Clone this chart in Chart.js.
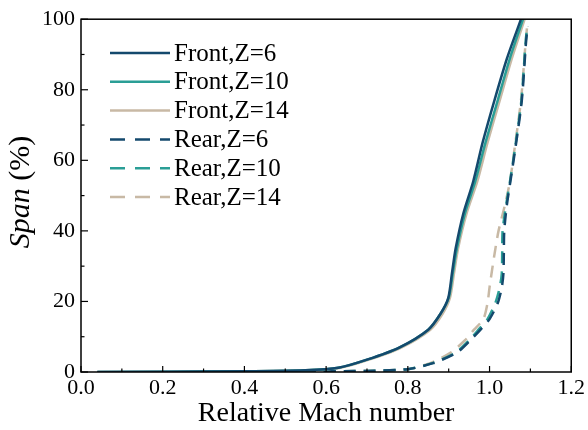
<!DOCTYPE html>
<html>
<head>
<meta charset="utf-8">
<script src="https://cdn.jsdelivr.net/npm/chart.js@4.4.1/dist/chart.umd.min.js"></script>
<style>
  html, body { margin: 0; padding: 0; background: #fff; }
  #wrap { width: 588px; height: 430px; }
</style>
</head>
<body>
<div id="wrap"><canvas id="chart" width="588" height="430"></canvas></div>
<script>
// span (%) for each curve point
const spanFront = [0, 0.2, 0.5, 1.2, 3.5, 7, 12, 16.5, 21, 28, 35, 45, 54, 65, 77, 89, 100];
const machFront6 = [0.04, 0.4, 0.55, 0.63, 0.70, 0.78, 0.85, 0.88, 0.899, 0.908, 0.917, 0.936, 0.96, 0.983, 1.012, 1.043, 1.077];
const machFront10 = [0.04, 0.4, 0.55, 0.63, 0.70, 0.78, 0.85, 0.88, 0.90, 0.91, 0.92, 0.94, 0.965, 0.99, 1.02, 1.05, 1.082];
const machFront14 = [0.04, 0.4, 0.55, 0.635, 0.705, 0.785, 0.855, 0.885, 0.903, 0.913, 0.923, 0.944, 0.97, 0.995, 1.025, 1.055, 1.086];

const spanRear = [0, 0.3, 0.8, 2.5, 5.5, 9, 12, 15, 19.5, 24, 28, 34, 40, 47, 54, 64, 77, 93, 98];
const machRear6 = [0.3, 0.7, 0.8, 0.862, 0.92, 0.953, 0.978, 1.0, 1.02, 1.03, 1.034, 1.035, 1.036, 1.042, 1.051, 1.064, 1.079, 1.089, 1.093];
const machRear10 = [0.3, 0.7, 0.8, 0.86, 0.917, 0.95, 0.973, 0.995, 1.014, 1.025, 1.03, 1.031, 1.032, 1.04, 1.05, 1.063, 1.078, 1.088, 1.092];
const machRear14 = [0.3, 0.7, 0.8, 0.855, 0.905, 0.94, 0.962, 0.985, 0.995, 1.0, 1.005, 1.013, 1.022, 1.037, 1.05, 1.062, 1.077, 1.088, 1.092];

const labels = ['Front,Z=6', 'Front,Z=10', 'Front,Z=14', 'Rear,Z=6', 'Rear,Z=10', 'Rear,Z=14'];
const colors = ['#14496d', '#2a9e96', '#c8b9a5'];
const xTicks = [0, 0.2, 0.4, 0.6, 0.8, 1.0, 1.2];
const yTicks = [0, 20, 40, 60, 80, 100];

const serif = '"Liberation Serif", "Times New Roman", serif';

const pts = (xs, ys) => xs.map((x, i) => ({ x: x, y: ys[i] }));

const series = [
  [machFront6, spanFront], [machFront10, spanFront], [machFront14, spanFront],
  [machRear6, spanRear], [machRear10, spanRear], [machRear14, spanRear]
];

const datasets = series.map((s, i) => ({
  label: labels[i],
  data: pts(s[0], s[1]),
  showLine: true,
  borderColor: colors[i % 3],
  borderWidth: 2.5,
  borderDash: i < 3 ? [] : [12, 8],
  pointRadius: 0,
  tension: 0.25,
  fill: false
}));

// box, inward ticks, legend and y title
const extras = {
  id: 'extras',
  afterDraw(chart) {
    const ctx = chart.ctx;
    const a = chart.chartArea;
    const xs = chart.scales.x, ys = chart.scales.y;
    ctx.save();
    ctx.strokeStyle = '#000';
    ctx.lineWidth = 1.5;
    ctx.setLineDash([]);
    ctx.strokeRect(a.left, a.top, a.right - a.left, a.bottom - a.top);
    ctx.lineWidth = 1.2;
    for (let v = 0; v <= 12; v++) {
      const px = xs.getPixelForValue(v / 10);
      const len = v % 2 === 0 ? 6 : 3.5;
      ctx.beginPath();
      ctx.moveTo(px, a.bottom);
      ctx.lineTo(px, a.bottom - len);
      ctx.stroke();
    }
    for (let v = 0; v <= 100; v += 10) {
      const py = ys.getPixelForValue(v);
      const len = v % 20 === 0 ? 7 : 3.5;
      ctx.beginPath();
      ctx.moveTo(a.left, py);
      ctx.lineTo(a.left + len, py);
      ctx.stroke();
    }

    // legend
    ctx.font = '25px ' + serif;
    ctx.textBaseline = 'middle';
    ctx.fillStyle = '#000';
    chart.data.datasets.forEach((d, i) => {
      const y = 53 + i * 28.8;
      ctx.strokeStyle = d.borderColor;
      ctx.lineWidth = 2.5;
      ctx.setLineDash(i < 3 ? [] : [15, 10]);
      ctx.beginPath();
      ctx.moveTo(110, y);
      ctx.lineTo(170, y);
      ctx.stroke();
      ctx.setLineDash([]);
      ctx.fillText(d.label, 174, y + 1);
    });

    // y title: italic "Span" + " (%)"
    ctx.translate(21, 192);
    ctx.rotate(-Math.PI / 2);
    ctx.textBaseline = 'middle';
    ctx.fillStyle = '#000';
    const f1 = 'italic 30px ' + serif, f2 = '30px ' + serif;
    ctx.font = f1;
    const w1 = ctx.measureText('Span').width;
    ctx.font = f2;
    const w2 = ctx.measureText(' (%)').width;
    const start = -(w1 + w2) / 2;
    ctx.font = f1;
    ctx.textAlign = 'left';
    ctx.fillText('Span', start, 0);
    ctx.font = f2;
    ctx.fillText(' (%)', start + w1, 0);
    ctx.restore();
  }
};

const chart = new Chart(document.getElementById('chart'), {
  type: 'scatter',
  data: { datasets: datasets },
  options: {
    responsive: false,
    animation: false,
    layout: { padding: { top: 18, right: 15, left: 0, bottom: 0 } },
    plugins: { legend: { display: false }, tooltip: { enabled: false } },
    scales: {
      x: {
        type: 'linear', min: 0, max: 1.2,
        afterBuildTicks: s => { s.ticks = xTicks.map(v => ({ value: v })); },
        afterFit: s => { s.height = 58; },
        grid: { display: false, drawTicks: false },
        border: { display: false },
        ticks: {
          color: '#000', padding: 3,
          font: { family: serif, size: 22 },
          callback: v => v.toFixed(1)
        },
        title: {
          display: true, text: 'Relative Mach number', color: '#000',
          font: { family: serif, size: 28 }, padding: { top: 0, bottom: 0 }
        }
      },
      y: {
        type: 'linear', min: 0, max: 100,
        afterBuildTicks: s => { s.ticks = yTicks.map(v => ({ value: v })); },
        afterFit: s => { s.width = 81; },
        grid: { display: false, drawTicks: false },
        border: { display: false },
        ticks: {
          color: '#000', padding: 6,
          font: { family: serif, size: 22 }
        }
      }
    }
  },
  plugins: [extras]
});
</script>
</body>
</html>
